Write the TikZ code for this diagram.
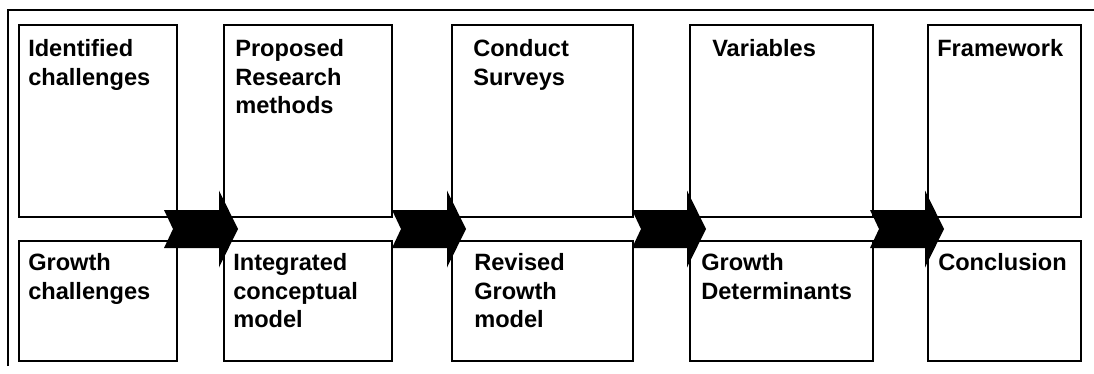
\documentclass[tikz,border=0pt]{standalone}
\usepackage{fontspec}
\setmainfont{Liberation Sans}
\usetikzlibrary{calc}

\begin{document}
\begin{tikzpicture}[
  x=0.75pt, y=-0.75pt,
  box/.style={draw=black, line width=1.1pt, inner sep=0pt, outer sep=0pt,
    anchor=north west},
  upper/.style={box, minimum height=144pt},
  lower/.style={box, minimum height=90pt},
  caption/.style={font=\fontsize{17.7}{21.5}\selectfont\bfseries,
    align=left, anchor=north west, inner sep=0pt,
    execute at begin node=\strut},
  flowarrow/.pic={\fill[black] (-74,-19) -- (-19,-19) -- (-19,-38.5) -- (0,0)
    -- (-19,38.5) -- (-19,19) -- (-74,19) -- (-65,0) -- cycle;}
]
\useasboundingbox (0,0) rectangle (1094,374);
\draw[line width=1.1pt] (8,366) -- (8,10) -- (1094,10);

% upper row
\node[upper, minimum width=118.5pt] (b1t) at (19,25) {};
\node[upper, minimum width=126pt] (b2t) at (224,25) {};
\node[upper, minimum width=135.75pt] (b3t) at (452,25) {};
\node[upper, minimum width=137.25pt] (b4t) at (690,25) {};
\node[upper, minimum width=114.75pt] (b5t) at (928,25) {};

% lower row
\node[lower, minimum width=118.5pt] (b1b) at (19,241) {};
\node[lower, minimum width=126pt] (b2b) at (224,241) {};
\node[lower, minimum width=135.75pt] (b3b) at (452,241) {};
\node[lower, minimum width=137.25pt] (b4b) at (690,241) {};
\node[lower, minimum width=114.75pt] (b5b) at (928,241) {};

\node[caption] (t1t) at ($(b1t.north west)+(9,14)$) {Identified\\challenges};
\node[caption] (t2t) at ($(b2t.north west)+(11,14)$) {Proposed\\Research\\methods};
\node[caption] (t3t) at ($(b3t.north west)+(21,14)$) {Conduct\\Surveys};
\node[caption] (t4t) at ($(b4t.north west)+(22,11)$) {Variables};
\node[caption] (t5t) at ($(b5t.north west)+(9,11)$) {Framework};

\node[caption] (t1b) at ($(b1b.north west)+(9,12)$) {Growth\\challenges};
\node[caption] (t2b) at ($(b2b.north west)+(9,12)$) {Integrated\\conceptual\\model};
\node[caption] (t3b) at ($(b3b.north west)+(22,12)$) {Revised\\Growth\\model};
\node[caption] (t4b) at ($(b4b.north west)+(11,12)$) {Growth\\Determinants};
\node[caption] (t5b) at ($(b5b.north west)+(10,9)$) {Conclusion};

% arrows between the stages
\pic at ($(b2t.south west)+(14,12)$) {flowarrow};
\pic at ($(b3t.south west)+(14,12)$) {flowarrow};
\pic at ($(b4t.south west)+(16,12)$) {flowarrow};
\pic at ($(b5t.south west)+(16,12)$) {flowarrow};
\end{tikzpicture}
\end{document}
